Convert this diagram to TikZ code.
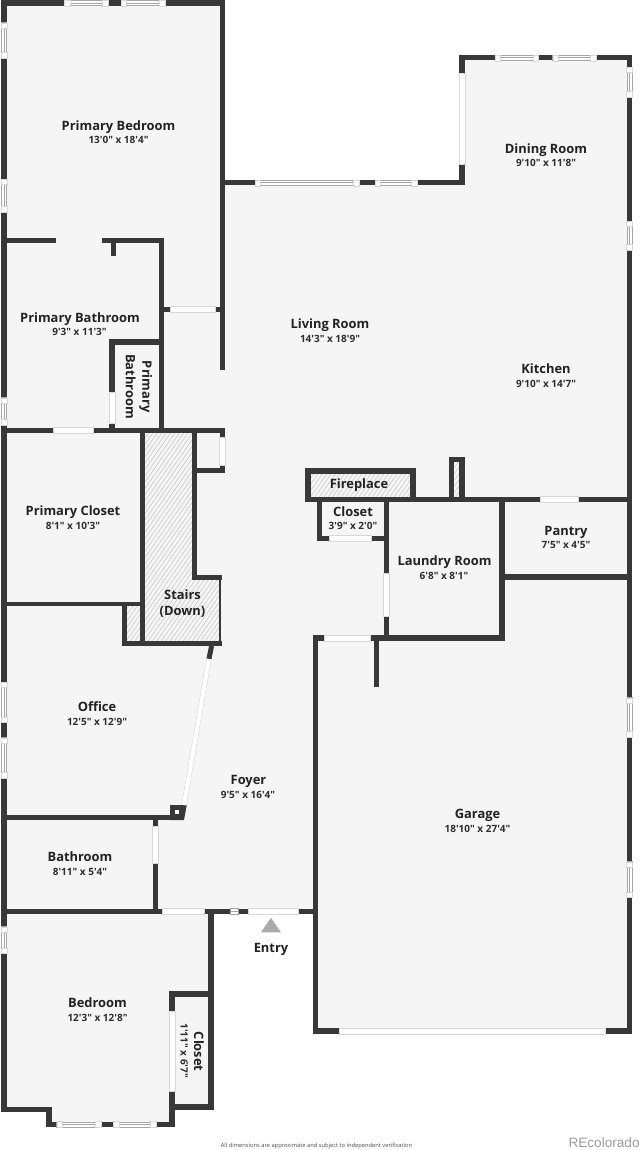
\documentclass[tikz,border=0pt]{standalone}
\usepackage{fontspec}
\newfontfamily\labelfont{Open Sans}
\newfontfamily\brandfont{Liberation Sans}
\definecolor{wallc}{HTML}{383838}
\definecolor{floorc}{HTML}{F5F5F5}
\definecolor{hatchc}{HTML}{C4C4C4}
\definecolor{winc}{HTML}{A6A6A6}
\definecolor{edgec}{HTML}{D8D8D8}
\definecolor{namec}{HTML}{222222}
\definecolor{dimc}{HTML}{2E2E2E}
\tikzset{
  x=1pt,y=-1pt,
  wall/.style={draw=wallc,line width=5.6pt,line cap=butt,line join=miter},
  fireline/.style={draw=hatchc,line width=0.5pt},
  rnamebase/.style={font=\labelfont\bfseries\fontsize{12.9}{16.5}\selectfont,text=namec,align=center,inner sep=0pt},
  rname/.style={rnamebase,text height=9.3pt,text depth=3pt,yshift=-1.6pt},
  rdim/.style={font=\labelfont\bfseries\fontsize{10}{12}\selectfont,text=dimc,align=center,inner sep=0pt,text height=7.2pt,text depth=2.4pt,yshift=-1.2pt},
  opening/.style={fill=white,draw=edgec,line width=0.3pt},
  pane/.style={fill=white,draw=winc,line width=0.5pt},
  lug/.style={fill=white,draw=edgec,line width=0.3pt},
}
% openings, laid over continuous walls
\newcommand{\doorh}[3]{\path[opening] (#1,#3-3) rectangle (#2,#3+3);}
\newcommand{\doorv}[3]{\path[opening] (#3-3,#1) rectangle (#3+3,#2);}
\newcommand{\winh}[3]{%
  \path[pane] (#1,#3-2.4) rectangle (#2,#3+2.4);
  \draw[winc,line width=0.4pt] (#1,#3) -- (#2,#3);
  \path[lug] (#1,#3-3) rectangle (#1+5.5,#3+3);
  \path[lug] (#2-5.5,#3-3) rectangle (#2,#3+3);}
\newcommand{\winv}[3]{%
  \path[pane] (#3-2.4,#1) rectangle (#3+2.4,#2);
  \draw[winc,line width=0.4pt] (#3,#1) -- (#3,#2);
  \path[lug] (#3-3,#1) rectangle (#3+3,#1+5.5);
  \path[lug] (#3-3,#2-5.5) rectangle (#3+3,#2);}
\newcommand{\hatcharea}[1]{%
  \begin{scope}
    \clip #1;
    \foreach \k in {0,4.4,...,1000}{\draw[fireline] (\k,400) -- (\k-280,800);}
  \end{scope}}
\begin{document}
\begin{tikzpicture}
\useasboundingbox (0,0) rectangle (640,1150);
\fill[white] (0,0) rectangle (640,1150);
% floor
\fill[floorc] (4,3) -- (222,3) -- (222,182) -- (462,182) -- (462,58) -- (629,58) -- (629,1031)
  -- (316,1031) -- (316,911) -- (211,911) -- (211,1107) -- (172,1107) -- (172,1124)
  -- (49,1124) -- (49,1109) -- (4,1109) -- cycle;
% hatching
\hatcharea{(145,433) -- (192,433) -- (192,580) -- (220,580) -- (220,641) -- (145,641) -- cycle}
\hatcharea{(127,606) rectangle (140,641)}
\hatcharea{(311,473.5) rectangle (410,496.5)}
\hatcharea{(454.5,462.5) rectangle (459.5,497)}
% outer walls
\draw[wall] (3.7,0) -- (3.7,1112);
\draw[wall] (1,3) -- (225,3);
\draw[wall] (222.5,0) -- (222.5,370);
\draw[wall] (225,182.7) -- (462.2,182.7) -- (462.2,57.7) -- (629.4,57.7) -- (629.4,1034);
\draw[wall] (315.5,1034) -- (315.5,638) -- (502.2,638) -- (502.2,497);
\draw[wall] (315.5,1030.9) -- (632,1030.9);
% primary suite
\draw[wall] (4,240.7) -- (56,240.7);
\draw[wall] (101.7,240.7) -- (161.3,240.7) -- (161.3,430);
\draw[wall] (113.3,240) -- (113.3,256);
\draw[wall] (164,309.5) -- (222,309.5);
\draw[wall] (161,342) -- (112,342) -- (112,430);
\draw[wall] (1,430.3) -- (225,430.3);
% stairs and closet
\draw[wall] (142.6,430) -- (142.6,646);
\draw[wall] (194.6,430) -- (194.6,577.5) -- (221.5,577.5);
\draw[wall] (222.3,430) -- (222.3,473);
\draw[wall] (194.6,470.3) -- (225,470.3);
\draw[wall,line width=2.2pt] (220.3,577) -- (220.3,646);
\draw[wall] (122,643.6) -- (221.5,643.6);
\draw[wall] (124.5,604) -- (124.5,646);
\draw[wall,line width=4.4pt] (4,604) -- (145,604);
% office / bath
\draw[wall,line width=5pt] (4,817.5) -- (184,817.5);
\fill[wallc] (170,805) -- (186.8,805) -- (184,820) -- (170,820) -- cycle;
\fill[white] (175.3,810.3) rectangle (179.3,814.3);
\draw[wall] (155.5,817) -- (155.5,911);
\draw[wall] (4,911.3) -- (313,911.3);
% bedroom
\draw[wall] (1,1109.4) -- (49,1109.4) -- (49,1124.4) -- (172.2,1124.4) -- (172.2,994.2) -- (211,994.2);
\draw[wall] (210.9,908.5) -- (210.9,1110);
\draw[wall] (172,1107) -- (213.5,1107);
% entry porch stub and garage wall
\draw[wall] (376.5,638) -- (376.5,686.7);
% fireplace
\draw[wall] (308,499.5) -- (308,471) -- (412.8,471) -- (412.8,499.5);
\draw[wall] (305,499.6) -- (632,499.6);
\draw[wall] (451.6,499.5) -- (451.6,459.6) -- (462.2,459.6) -- (462.2,499.5);
% closet
\draw[wall] (319.5,502) -- (319.5,538.4) -- (386.5,538.4);
\draw[wall] (386.5,497) -- (386.5,638);
% pantry
\draw[wall] (502,577.2) -- (629,577.2);
% diagonal door
\draw[wall,line width=5pt] (211.6,646) -- (208.9,659);
\draw[edgec,line width=5.2pt] (208.9,659) -- (184,805);
\draw[white,line width=4.2pt] (208.9,659) -- (184,805);
% door openings
\doorh{53}{92.7}{430.3}
\doorh{170}{215}{309.5}
\doorv{392.3}{423}{112}
\doorv{437}{465}{222.3}
\doorv{825.7}{863.3}{155.5}
\doorh{162.3}{204}{911.3}
\doorh{248.3}{297.7}{911.3}
\doorh{324.3}{370}{638}
\doorv{573.3}{615.7}{386.5}
\doorh{329}{371}{538.4}
\doorh{540}{578.3}{499.6}
\doorv{1011}{1090.7}{172.2}
\doorv{72.7}{164}{462.2}
\doorh{339}{604.7}{1030.9}
% windows
\winh{64.3}{107.7}{3}
\winh{121}{165}{3}
\winv{22.7}{58}{3.7}
\winv{179}{212}{3.7}
\winv{397.7}{425}{3.7}
\winv{682}{722.3}{3.7}
\winv{737.7}{777.7}{3.7}
\winv{926.7}{953.3}{3.7}
\winh{255}{359}{182.7}
\winh{375}{416.7}{182.7}
\winh{495}{538.3}{57.7}
\winh{552.7}{595.7}{57.7}
\winv{67}{96.7}{629.4}
\winv{221}{250}{629.4}
\winv{697.7}{736.7}{629.4}
\winv{861.7}{897.3}{629.4}
\winh{56.7}{100.7}{1124.4}
\winh{113.3}{156}{1124.4}
\path[pane,draw=winc] (230,908.5) rectangle (238.3,914.2);
\draw[winc,line width=0.4pt] (230,911.3) -- (238.3,911.3);
% entry marker
\fill[black!33] (271,917.8) -- (281,932.3) -- (261,932.3) -- cycle;
% labels
\node[rname] (pbedn) at (118.5,125.5) {Primary Bedroom};
\node[rdim] (pbedd) at (118.5,140) {13'0" x 18'4"};
\node[rname] (pbathn) at (80,317.5) {Primary Bathroom};
\node[rdim] (pbathd) at (79.5,332) {9'3" x 11'3"};
\node[rnamebase,rotate=-90] (pbath2) at (139,386.7) {Primary\\Bathroom};
\node[rname] (pclosn) at (73,511) {Primary Closet};
\node[rdim] (pclosd) at (73,525.5) {8'1" x 10'3"};
\node[rnamebase] (stairs) at (182.5,603.5) {Stairs\\(Down)};
\node[rname] (fire) at (359,484) {Fireplace};
\node[rname] (closn) at (353,511.5) {Closet};
\node[rdim] (closd) at (353,525.5) {3'9" x 2'0"};
\node[rname] (laun) at (444.5,561) {Laundry Room};
\node[rdim] (laud) at (444,575.5) {6'8" x 8'1"};
\node[rname] (pann) at (566,531) {Pantry};
\node[rdim] (pand) at (566,545) {7'5" x 4'5"};
\node[rname] (livn) at (330,324) {Living Room};
\node[rdim] (livd) at (330,339) {14'3" x 18'9"};
\node[rname] (kitn) at (546,369) {Kitchen};
\node[rdim] (kitd) at (546,384) {9'10" x 14'7"};
\node[rname] (dinn) at (546,149) {Dining Room};
\node[rdim] (dind) at (546,163) {9'10" x 11'8"};
\node[rname] (offn) at (97,707) {Office};
\node[rdim] (offd) at (97,722) {12'5" x 12'9"};
\node[rname] (foyn) at (248.5,780) {Foyer};
\node[rdim] (foyd) at (248,794.5) {9'5" x 16'4"};
\node[rname] (bathn) at (80,857) {Bathroom};
\node[rdim] (bathd) at (80,871.5) {8'11" x 5'4"};
\node[rname] (garn) at (477.5,814) {Garage};
\node[rdim] (gard) at (477.5,828.5) {18'10" x 27'4"};
\node[rname] (entry) at (271,948) {Entry};
\node[rname] (bedn) at (97.5,1003) {Bedroom};
\node[rdim] (bedd) at (97.5,1017.5) {12'3" x 12'8"};
\node[rnamebase,rotate=-90] (cl2n) at (199,1051.7) {Closet};
\node[font=\labelfont\bfseries\fontsize{10}{12}\selectfont,text=dimc,inner sep=0pt,rotate=-90] (cl2d) at (184.3,1050.7) {1'11" x 6'7"};
\node[font=\labelfont\fontsize{5.75}{6.5}\selectfont,text=black!70,inner sep=0pt] (note) at (316.5,1145.5) {All dimensions are approximate and subject to independent verification};
\node[font=\brandfont\fontsize{13.6}{15}\selectfont,text=black!38,inner sep=0pt,anchor=east] (brand) at (639.8,1143) {REcolorado};
\end{tikzpicture}
\end{document}
